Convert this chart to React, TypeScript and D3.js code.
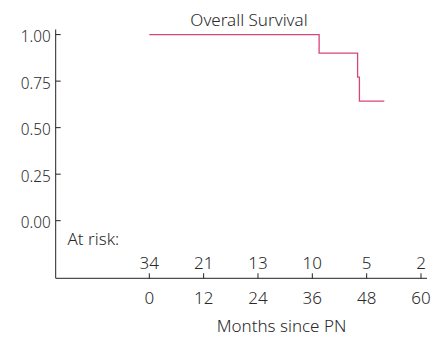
import React from "react";
import * as d3 from "d3";

const stepTimes = [0, 37.5, 46.0, 46.4, 51.9];
const stepSurv = [1.0, 0.9, 0.771, 0.643, 0.643];
const xTicks = [0, 12, 24, 36, 48, 60];
const yTicks = [0, 0.25, 0.5, 0.75, 1.0];
const atRisk = [34, 21, 13, 10, 5, 2];

const W = 441;
const H = 337;
const font = "'Noto Sans', sans-serif";
const textColor = "#2a2a2a";
const lineColor = "#d6457c";
const fs = 17;

export default function App() {
  const x = d3.scaleLinear().domain([0, 60]).range([149.3, 421]);
  const y = d3.scaleLinear().domain([0, 1]).range([220.7, 34.6]);
  const axisX = 55.7;
  const axisY = 278.3;
  const pts: [number, number][] = stepTimes.map((t, i) => [t, stepSurv[i]]);
  const line = d3
    .line<[number, number]>()
    .x((d) => x(d[0]))
    .y((d) => y(d[1]))
    .curve(d3.curveStepAfter);
  const tp = { fontFamily: font, fontSize: fs, fill: textColor, fontWeight: 300 };

  return (
    <svg width={W} height={H} style={{ position: "absolute", left: 0, top: 0 }}>
      <rect width={W} height={H} fill="#fff" />
      <text x={249} y={26} textAnchor="middle" {...tp}>
        Overall Survival
      </text>
      <line x1={axisX} x2={axisX} y1={29.5} y2={axisY} stroke="#222" strokeWidth={1} />
      <line x1={axisX} x2={427} y1={axisY} y2={axisY} stroke="#222" strokeWidth={1} />
      {yTicks.map((t) => (
        <g key={t}>
          <line x1={axisX} x2={axisX + 5} y1={y(t)} y2={y(t)} stroke="#222" />
          <text
            transform={`translate(${axisX - 5},${y(t) + 7.5}) scale(0.9,1)`}
            textAnchor="end"
            {...tp}
          >
            {d3.format(".2f")(t)}
          </text>
        </g>
      ))}
      {xTicks.map((t, i) => (
        <g key={t}>
          <line x1={x(t)} x2={x(t)} y1={axisY} y2={axisY - 5} stroke="#222" />
          <text x={x(t)} y={304} textAnchor="middle" {...tp}>
            {t}
          </text>
          <text x={x(t)} y={269} textAnchor="middle" {...tp}>
            {atRisk[i]}
          </text>
        </g>
      ))}
      <text x={67.5} y={245} {...tp}>
        At risk:
      </text>
      <text x={281.5} y={332} textAnchor="middle" {...tp}>
        Months since PN
      </text>
      <path d={line(pts) || ""} fill="none" stroke={lineColor} strokeWidth={1.3} />
    </svg>
  );
}
